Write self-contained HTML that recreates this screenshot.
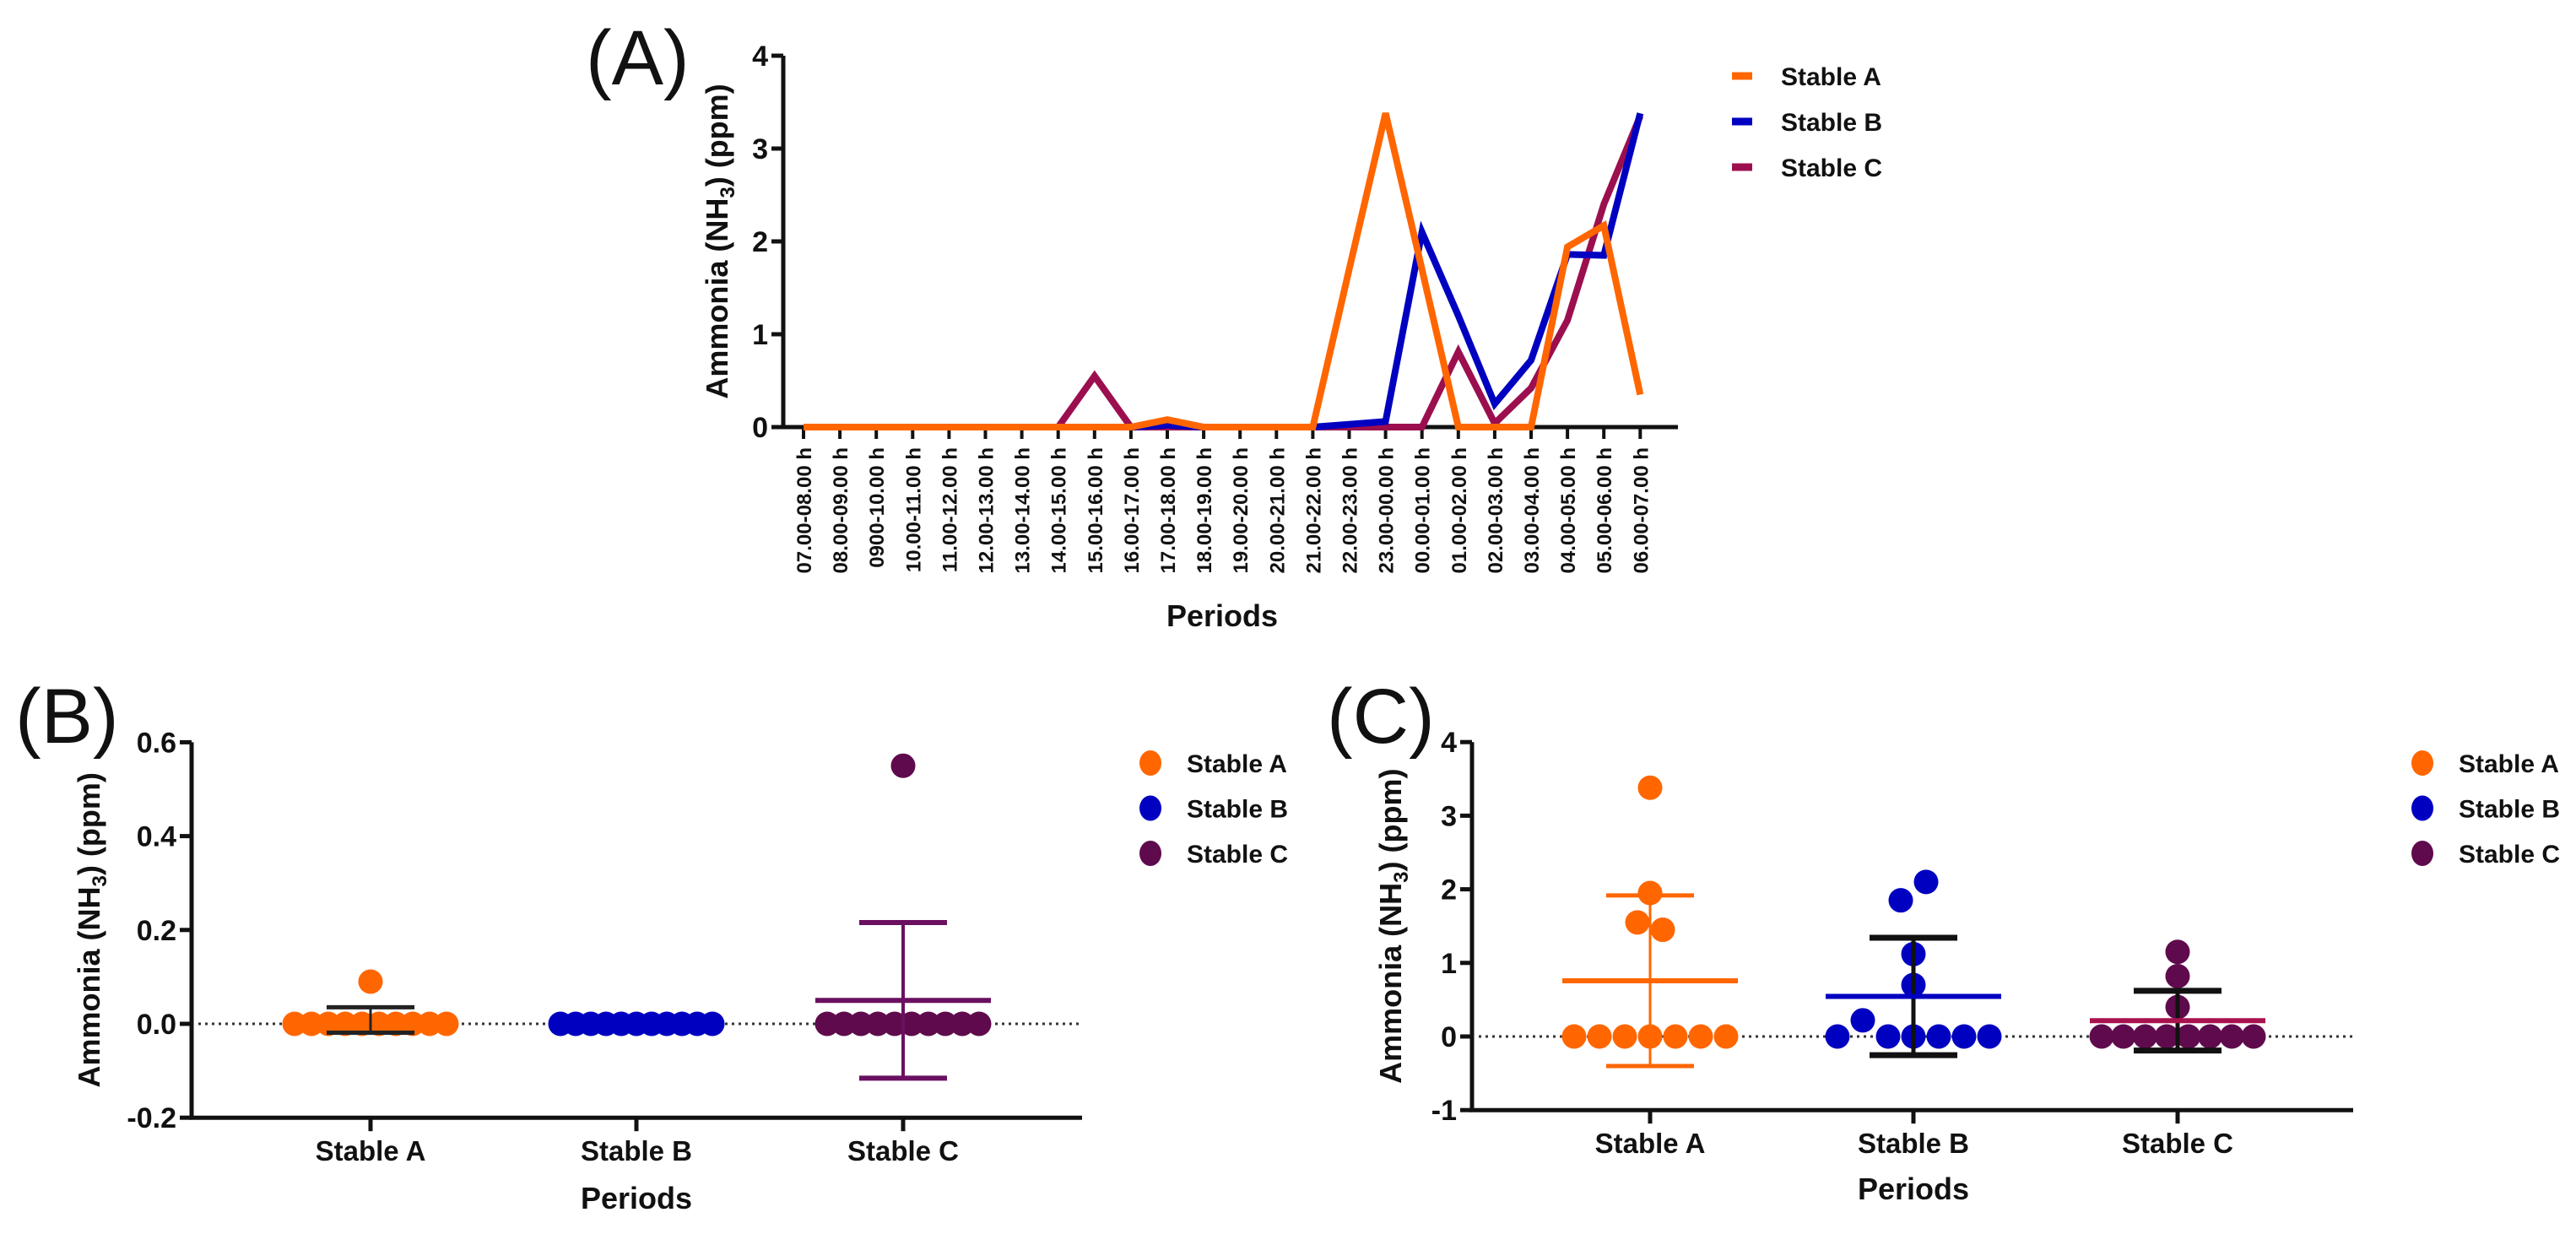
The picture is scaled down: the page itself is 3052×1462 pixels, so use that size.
<!DOCTYPE html>
<html><head><meta charset="utf-8"><style>
html,body{margin:0;padding:0;background:#fff}
svg{display:block}
text{font-family:"Liberation Sans",Arial,sans-serif;font-weight:bold;fill:#111}
</style></head><body>
<svg id="fig" width="3052" height="1462" viewBox="0 0 3052 1462" xmlns="http://www.w3.org/2000/svg">
<g id="pa"></g>
<g id="pb"></g>
<g id="pc"></g>
</svg>
<script>
// ---------- Panel A data ----------
const periods = ["07.00-08.00 h","08.00-09.00 h","0900-10.00 h","10.00-11.00 h","11.00-12.00 h","12.00-13.00 h","13.00-14.00 h","14.00-15.00 h","15.00-16.00 h","16.00-17.00 h","17.00-18.00 h","18.00-19.00 h","19.00-20.00 h","20.00-21.00 h","21.00-22.00 h","22.00-23.00 h","23.00-00.00 h","00.00-01.00 h","01.00-02.00 h","02.00-03.00 h","03.00-04.00 h","04.00-05.00 h","05.00-06.00 h","06.00-07.00 h"];
const lineA = [0,0,0,0,0,0,0,0,0,0,0.08,0,0,0,0,1.7,3.38,1.7,0,0,0,1.94,2.17,0.35];
const lineB = [0,0,0,0,0,0,0,0,0,0,0.02,0,0,0,0,0.03,0.06,2.1,1.2,0.25,0.72,1.86,1.85,3.38];
const lineC = [0,0,0,0,0,0,0,0,0.55,0,0,0,0,0,0,0,0,0,0.81,0.04,0.42,1.15,2.4,3.35];
const ticksA = [0,1,2,3,4];
const seriesNames = ["Stable A","Stable B","Stable C"];
// ---------- Panel B data ----------
const bTicks = [-0.2,0,0.2,0.4,0.6];
const bTickLabels = ["-0.2","0.0","0.2","0.4","0.6"];
const bStableA = [0,0,0,0,0,0,0,0,0,0,0.09];
const bStableB = [0,0,0,0,0,0,0,0,0,0,0];
const bStableC = [0,0,0,0,0,0,0,0,0,0,0.55];
// ---------- Panel C data ----------
const cTicks = [-1,0,1,2,3,4];
const cTickLabels = ["-1","0","1","2","3","4"];
const cStableA = [0,0,0,0,0,0,0,1.55,1.45,1.95,3.38];
const cStableB = [0,0.22,0,0,0,0,0,0.7,1.12,1.85,2.1];
const cStableC = [0,0,0,0,0,0,0,0,0.4,0.82,1.15];

const NS="http://www.w3.org/2000/svg";
function mk(parent,tag,attrs,txt){const e=document.createElementNS(NS,tag);for(const k in attrs)e.setAttribute(k,attrs[k]);if(txt!==undefined)e.textContent=txt;parent.appendChild(e);return e;}

const ORANGE="#ff6600", BLUE="#0000c0", LINEC="#9c0f4f", DOTC="#5f0a4d";

// ===== Panel A =====
(function(){
  const g=document.getElementById('pa');
  const x0=952, dx=43.1, y0=506, yk=110, axL=928, axR=1988;
  const X=i=>x0+i*dx, Y=v=>y0-v*yk;
  let t=mk(g,'text',{x:694,y:100,'font-size':92,style:'font-weight:normal'},'(A)');
  
  
  let ax=mk(g,'path',{d:`M${axL},${Y(4)} V${y0} H${axR}`,stroke:'#111','stroke-width':5,fill:'none'});
  
  
  ticksA.forEach(v=>{
    mk(g,'line',{x1:axL-14,x2:axL,y1:Y(v),y2:Y(v),stroke:'#111','stroke-width':5});
    const tl=mk(g,'text',{x:axL-18,y:Y(v)+12,'font-size':34,'text-anchor':'end'},String(v));
    
    
  });
  periods.forEach((p,i)=>{
    mk(g,'line',{x1:X(i),x2:X(i),y1:y0,y2:y0+14,stroke:'#111','stroke-width':4});
    const tl=mk(g,'text',{x:0,y:0,'font-size':24,'text-anchor':'end',transform:`translate(${X(i)+9},${y0+24}) rotate(-90)`},p);
    
    
  });
  const yt=mk(g,'text',{x:0,y:0,'font-size':36,'text-anchor':'middle',transform:`translate(862,${(Y(4)+y0)/2}) rotate(-90)`});
  
  
  yt.innerHTML='Ammonia (NH<tspan font-size="24" dy="8">3</tspan><tspan dy="-8">) (ppm)</tspan>';
  const xt=mk(g,'text',{x:1448,y:742,'font-size':36,'text-anchor':'middle'},'Periods');
  
  
  const lines=[[lineC,LINEC],[lineB,BLUE],[lineA,ORANGE]];
  lines.forEach(([arr,col])=>{
    const d=arr.map((v,i)=>(i?'L':'M')+X(i).toFixed(1)+','+Y(v).toFixed(1)).join(' ');
    const pth=mk(g,'path',{d,stroke:col,'stroke-width':8,fill:'none','stroke-linejoin':'miter'});
    
    
  });
  [ORANGE,BLUE,LINEC].forEach((c,i)=>{
    const ly=90+i*54;
    const lg=mk(g,'g',{});
    
    
    mk(lg,'line',{x1:2052,x2:2076,y1:ly,y2:ly,stroke:c,'stroke-width':9});
    mk(lg,'text',{x:2110,y:ly+11,'font-size':30},seriesNames[i]);
  });
})();

// ===== Dot plot helper =====
function dotPanel(g,cfg){
  const Y=v=>cfg.y0-v*cfg.yk;
  const yTop=Y(cfg.ticks[cfg.ticks.length-1]), yBot=Y(cfg.ticks[0]);
  let t=mk(g,'text',{x:cfg.lblX,y:cfg.lblY,'font-size':92,style:'font-weight:normal'},cfg.label);
  
  
  const ax=mk(g,'path',{d:`M${cfg.axL},${yTop} V${yBot} H${cfg.axR}`,stroke:'#111','stroke-width':5,fill:'none'});
  
  
  cfg.ticks.forEach((v,i)=>{
    mk(g,'line',{x1:cfg.axL-14,x2:cfg.axL,y1:Y(v),y2:Y(v),stroke:'#111','stroke-width':5});
    const tl=mk(g,'text',{x:cfg.axL-18,y:Y(v)+12,'font-size':34,'text-anchor':'end'},cfg.tickLabels[i]);
    
    
  });
  const zl=mk(g,'line',{x1:cfg.axL+8,x2:cfg.axR,y1:Y(0),y2:Y(0),stroke:'#333','stroke-width':3,'stroke-dasharray':'3,5'});
  
  
  const yt=mk(g,'text',{x:0,y:0,'font-size':36,'text-anchor':'middle',transform:`translate(${cfg.ytX},${(yTop+yBot)/2}) rotate(-90)`});
  
  
  yt.innerHTML='Ammonia (NH<tspan font-size="24" dy="8">3</tspan><tspan dy="-8">) (ppm)</tspan>';
  const xt=mk(g,'text',{x:cfg.cats[1],y:cfg.perY,'font-size':36,'text-anchor':'middle'},'Periods');
  
  
  cfg.groups.forEach((vals,gi)=>{
    const cx=cfg.cats[gi], st=cfg.styles[gi];
    mk(g,'line',{x1:cx,x2:cx,y1:yBot,y2:yBot+16,stroke:'#111','stroke-width':5});
    const cl=mk(g,'text',{x:cx,y:cfg.catY,'font-size':33,'text-anchor':'middle'},seriesNames[gi]);
    
    
    const n=vals.length, mean=vals.reduce((a,b)=>a+b,0)/n;
    const sd=Math.sqrt(vals.reduce((a,b)=>a+(b-mean)*(b-mean),0)/(n-1));
    // clusters in original order
    const clusters=[];
    vals.forEach(v=>{
      const c=clusters.find(c=>Math.abs(Y(c[0])-Y(v))<24);
      if(c) c.push(v); else clusters.push([v]);
    });
    const dg=mk(g,'g',{});
    
    
    clusters.forEach(cl=>{
      const m=cl.length, sp=m>1?Math.min(30,180/(m-1)):0;
      cl.forEach((v,k)=>{
        const c=mk(dg,'ellipse',{cx:cx+(k-(m-1)/2)*sp,cy:Y(v),rx:14.5,ry:14.5,fill:st.dot});
        
        
      });
    });
    const eg=mk(g,'g',{});
    
    
    mk(eg,'line',{x1:cx,x2:cx,y1:Y(mean+sd),y2:Y(mean-sd),stroke:st.err,'stroke-width':st.ew});
    mk(eg,'line',{x1:cx-52,x2:cx+52,y1:Y(mean+sd),y2:Y(mean+sd),stroke:st.err,'stroke-width':st.ew+2});
    mk(eg,'line',{x1:cx-52,x2:cx+52,y1:Y(mean-sd),y2:Y(mean-sd),stroke:st.err,'stroke-width':st.ew+2});
    if(st.mean){
      const ml=mk(g,'line',{x1:cx-104,x2:cx+104,y1:Y(mean),y2:Y(mean),stroke:st.mean,'stroke-width':6});
      
      
    }
  });
  [ORANGE,BLUE,DOTC].forEach((c,i)=>{
    const ly=cfg.legY+i*53.5;
    const lg=mk(g,'g',{});
    
    
    mk(lg,'ellipse',{cx:cfg.legX,cy:ly,rx:13,ry:15,fill:c});
    mk(lg,'text',{x:cfg.legX+43,y:ly+11,'font-size':30},seriesNames[i]);
  });
}

dotPanel(document.getElementById('pb'),{
  label:'(B)',lblX:18,lblY:880,axL:227,axR:1282,y0:1213,yk:556,ticks:bTicks,tickLabels:bTickLabels,
  ytX:118,cats:[439,754,1070],catY:1375,perY:1432,legX:1363,legY:904,
  groups:[bStableA,bStableB,bStableC],
  styles:[{dot:ORANGE,err:'#222',ew:3,mean:null},{dot:BLUE,err:BLUE,ew:2,mean:null},{dot:DOTC,err:'#6a1060',ew:4,mean:'#6a1060'}]
});
dotPanel(document.getElementById('pc'),{
  label:'(C)',lblX:1572,lblY:880,axL:1744,axR:2788,y0:1228,yk:87.2,ticks:cTicks,tickLabels:cTickLabels,
  ytX:1660,cats:[1955,2267,2580],catY:1366,perY:1421,legX:2870,legY:904,
  groups:[cStableA,cStableB,cStableC],
  styles:[{dot:ORANGE,err:ORANGE,ew:3,mean:ORANGE},{dot:BLUE,err:'#111',ew:5,mean:BLUE},{dot:DOTC,err:'#111',ew:5,mean:'#a8124f'}]
});
</script>
</body></html>
